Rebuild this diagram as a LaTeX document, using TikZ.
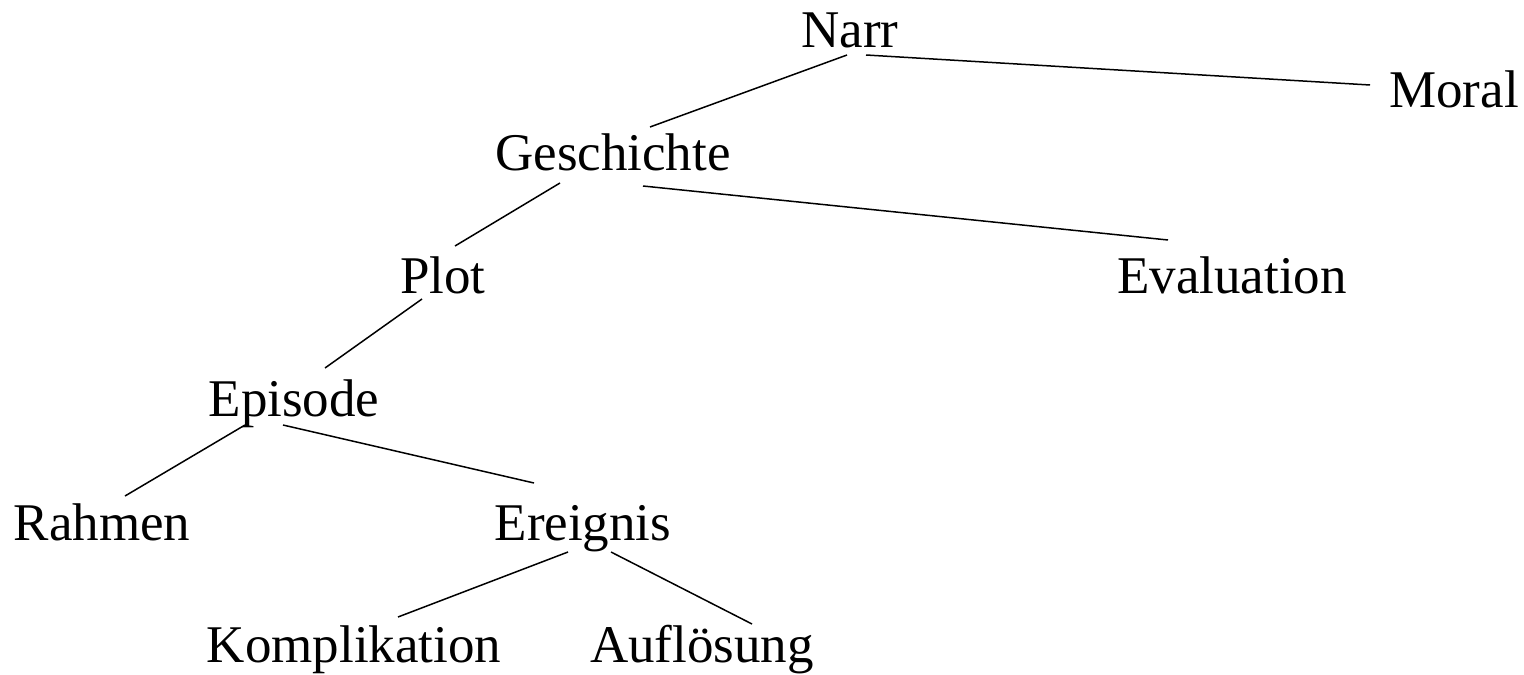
\documentclass[tikz,border=0pt]{standalone}
\usepackage{fontspec}
\setmainfont{Liberation Serif}
\begin{document}
\begin{tikzpicture}[x=0.5pt,y=-0.5pt,
  lbl/.style={anchor=base,inner sep=0pt,font=\fontsize{26.5pt}{30pt}\selectfont},
  edge/.style={line width=0.75pt}]
\useasboundingbox (0,0) rectangle (1524,674);
\node[lbl] (narr) at (850,48) {Narr};
\node[lbl] (moral) at (1454,107) {Moral};
\node[lbl] (gesch) at (613,170) {Geschichte};
\node[lbl] (plot) at (443,293) {Plot};
\node[lbl] (eval) at (1232,293) {Evaluation};
\node[lbl] (epi) at (294,416) {Episode};
\node[lbl] (rahmen) at (102,540) {Rahmen};
\node[lbl] (ereig) at (583,540) {Ereignis};
\node[lbl] (kompl) at (354,662) {Komplikation};
\node[lbl] (aufl) at (702,662) {Auflösung};
\draw[edge] ([shift={(-3,7)}]narr.base) -- ([shift={(37,-43)}]gesch.base);
\draw[edge] ([shift={(16,7)}]narr.base) -- ([shift={(-84,-22)}]moral.base);
\draw[edge] ([shift={(-53,13)}]gesch.base) -- ([shift={(12,-47)}]plot.base);
\draw[edge] ([shift={(30,16)}]gesch.base) -- ([shift={(-64,-53)}]eval.base);
\draw[edge] ([shift={(-21,6)}]plot.base) -- ([shift={(31,-48)}]epi.base);
\draw[edge] ([shift={(-49,9)}]epi.base) -- ([shift={(23,-44)}]rahmen.base);
\draw[edge] ([shift={(-11,9)}]epi.base) -- ([shift={(-49,-57)}]ereig.base);
\draw[edge] ([shift={(-15,12)}]ereig.base) -- ([shift={(44,-45)}]kompl.base);
\draw[edge] ([shift={(28,12)}]ereig.base) -- ([shift={(50,-38)}]aufl.base);
\end{tikzpicture}
\end{document}
